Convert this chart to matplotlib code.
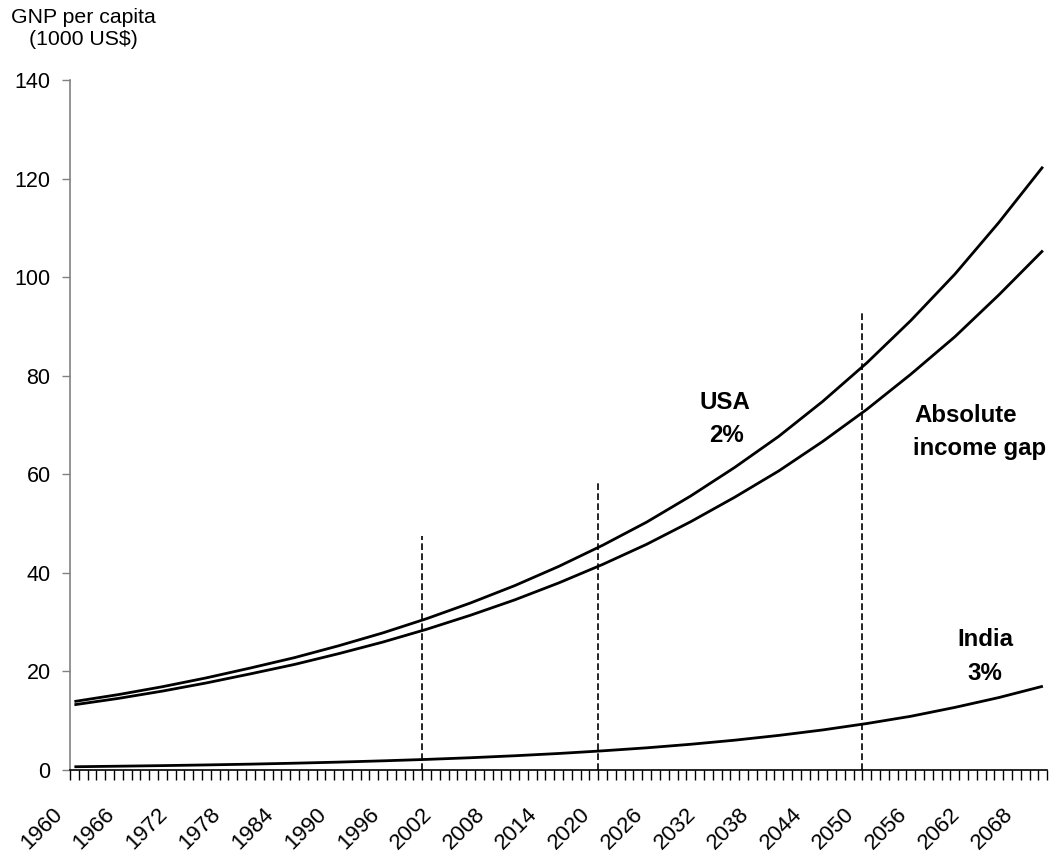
import matplotlib
matplotlib.use("Agg")
import matplotlib.pyplot as plt
from matplotlib.transforms import ScaledTranslation

plt.rcParams["font.family"] = ["Liberation Sans", "DejaVu Sans"]

# ------------------------- Datos -------------------------
# PNB per cápita (miles de US$), leído del gráfico cada 5 años
years = [1960, 1965, 1970, 1975, 1980, 1985, 1990, 1995, 2000, 2005, 2010, 2015,
         2020, 2025, 2030, 2035, 2040, 2045, 2050, 2055, 2060, 2065, 2070]
usa = [13.9, 15.3, 16.9, 18.7, 20.7, 22.8, 25.2, 27.8, 30.7, 33.9, 37.4, 41.3,
       45.6, 50.3, 55.6, 61.4, 67.7, 74.8, 82.6, 91.2, 100.6, 111.1, 122.4]
india = [0.66, 0.77, 0.89, 1.03, 1.19, 1.38, 1.60, 1.86, 2.15, 2.49, 2.89, 3.35,
         3.89, 4.50, 5.22, 6.05, 7.02, 8.13, 9.43, 10.9, 12.7, 14.7, 17.0]
gap = [u - i for u, i in zip(usa, india)]

# líneas verticales discontinuas (año de referencia, altura)
ref_years = [2000, 2020, 2050]
ref_tops = [47.5, 58.3, 92.8]

first_year, last_year = 1960, 2070
label_years = list(range(1960, 2070, 6))

# ------------------------- Figura -------------------------
W, H = 1059, 857
fig = plt.figure(figsize=(W / 100, H / 100), dpi=100)
ax = fig.add_axes([70 / W, 1 - 770 / H, (1047.3 - 70) / W, (770 - 80) / H])


def px(x, y):
    # píxeles de la imagen -> coordenadas de figura
    return x / W, 1 - y / H


for serie in (usa, gap, india):
    ax.plot(years, serie, color="black", lw=2.0, solid_capstyle="butt")

for yr, top in zip(ref_years, ref_tops):
    ax.vlines(yr - 0.5, 0, top, colors="black", lw=1.2,
              linestyles=(0, (4, 2)))

ax.set_xlim(first_year - 0.5, last_year + 0.5)
ax.set_ylim(0, 140)
ax.set_yticks(range(0, 141, 20))

ax.set_xticks(label_years)
ax.set_xticklabels([str(y) for y in label_years], rotation=45,
                   ha="right", va="top")
ax.set_xticks([y - 0.5 for y in range(first_year, last_year + 2)], minor=True)
ax.tick_params(axis="x", which="major", length=0, pad=24, labelsize=16)
ax.tick_params(axis="x", which="minor", length=7, width=1.0, color="black",
               direction="out")
ax.tick_params(axis="y", length=6, width=1.0, color="#808080", pad=8,
               labelsize=15.5)

offset = ScaledTranslation(-8 / 100, 0, fig.dpi_scale_trans)
for lab in ax.get_xticklabels():
    lab.set_transform(lab.get_transform() + offset)

ax.spines["top"].set_visible(False)
ax.spines["right"].set_visible(False)
ax.spines["left"].set_color("#808080")
ax.spines["left"].set_linewidth(1.2)
ax.spines["bottom"].set_color("black")
ax.spines["bottom"].set_linewidth(1.2)

# título del eje Y
fig.text(*px(83, 28.5), "GNP per capita\n(1000 US$)", ha="center",
         va="center", fontsize=15.3, linespacing=1.25)

# etiquetas de las curvas
bold = dict(fontsize=17.3, fontweight="bold", va="center")
fig.text(*px(725, 402), "USA", ha="center", **bold)
fig.text(*px(727, 435), "2%", ha="center", **bold)
fig.text(*px(914, 415), "Absolute", ha="left", **bold)
fig.text(*px(913, 448), "income gap", ha="left", **bold)
fig.text(*px(985, 639), "India", ha="center", **bold)
fig.text(*px(985, 673), "3%", ha="center", **bold)

fig.savefig("out.png", dpi=100)
